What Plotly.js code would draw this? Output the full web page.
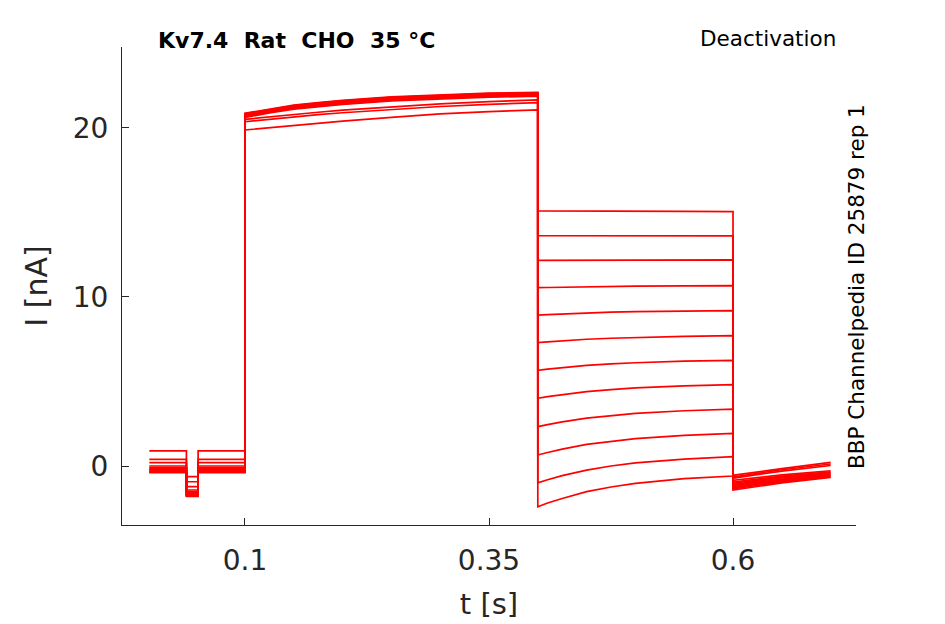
<!DOCTYPE html>
<html>
<head>
<meta charset="utf-8">
<script src="https://cdn.plot.ly/plotly-3.0.1.min.js"></script>
<style>
  html, body { margin: 0; padding: 0; background: #fff; }
  #graph { width: 945px; height: 624px; }
</style>
</head>
<body>
<div id="graph"></div>
<script>
/* ----- Protocol times (s) ------- */
var holdTimes = [0.002, 0.040];        // holding before the test pulse
var pulseTimes = [0.040, 0.052];       // short hyperpolarising test pulse
var preTimes = [0.052, 0.1];           // holding after the test pulse
var activationTimes = [0.1, 0.125, 0.15, 0.175, 0.2, 0.25, 0.3, 0.35, 0.4];
var deactivationTimes = [0.4, 0.41, 0.425, 0.45, 0.475, 0.5, 0.55, 0.6];
var tailTimes = [0.6, 0.65, 0.7];

/* ----- Currents per sweep (nA) ------------------------------- */
var holdingLevels = [-0.4, -0.37, -0.33, -0.3, -0.25, -0.2, -0.15, -0.1, 0.0, 0.2, 0.39, 0.89];
var pulseLevels = [-1.8, -1.77, -1.74, -1.71, -1.67, -1.62, -1.58, -1.52, -1.42, -1.22, -0.93, -0.63];

var activation = [
    [19.88, 20.02, 20.15, 20.28, 20.40, 20.63, 20.83, 20.97, 21.07],
    [20.37, 20.52, 20.66, 20.79, 20.90, 21.10, 21.27, 21.40, 21.50],
    [20.51, 20.66, 20.80, 20.93, 21.05, 21.25, 21.42, 21.56, 21.66],
    [20.62, 20.89, 21.11, 21.26, 21.39, 21.60, 21.73, 21.82, 21.88],
    [20.66, 20.93, 21.15, 21.30, 21.43, 21.64, 21.77, 21.86, 21.91],
    [20.70, 20.96, 21.18, 21.33, 21.46, 21.67, 21.80, 21.89, 21.94],
    [20.73, 20.99, 21.21, 21.36, 21.49, 21.70, 21.83, 21.92, 21.97],
    [20.76, 21.02, 21.24, 21.39, 21.52, 21.73, 21.86, 21.95, 22.00],
    [20.79, 21.05, 21.27, 21.42, 21.55, 21.76, 21.89, 21.98, 22.03],
    [20.82, 21.08, 21.30, 21.45, 21.58, 21.79, 21.92, 22.01, 22.06],
    [20.84, 21.10, 21.32, 21.47, 21.60, 21.81, 21.94, 22.03, 22.08],
    [20.87, 21.13, 21.35, 21.50, 21.63, 21.84, 21.97, 22.06, 22.11]
];

var deactivation = [
    [15.10, 15.10, 15.09, 15.08, 15.07, 15.07, 15.06, 15.05],
    [13.63, 13.63, 13.63, 13.62, 13.62, 13.62, 13.62, 13.62],
    [12.17, 12.17, 12.18, 12.19, 12.19, 12.19, 12.20, 12.20],
    [10.55, 10.56, 10.58, 10.61, 10.63, 10.64, 10.66, 10.67],
    [8.93, 8.96, 9.00, 9.06, 9.10, 9.13, 9.17, 9.19],
    [7.30, 7.35, 7.41, 7.50, 7.56, 7.61, 7.67, 7.71],
    [5.66, 5.73, 5.82, 5.95, 6.04, 6.11, 6.20, 6.25],
    [4.01, 4.11, 4.23, 4.40, 4.52, 4.62, 4.74, 4.81],
    [2.33, 2.45, 2.61, 2.83, 2.99, 3.11, 3.27, 3.36],
    [0.65, 0.80, 1.00, 1.28, 1.47, 1.62, 1.81, 1.93],
    [-0.99, -0.81, -0.57, -0.24, 0.00, 0.18, 0.41, 0.55],
    [-2.41, -2.19, -1.92, -1.52, -1.24, -1.03, -0.75, -0.59]
];

var tail = [
    [-1.42, -1.00, -0.67],
    [-1.35, -0.94, -0.63],
    [-1.28, -0.88, -0.59],
    [-1.22, -0.83, -0.55],
    [-1.15, -0.77, -0.50],
    [-1.08, -0.71, -0.45],
    [-1.02, -0.66, -0.40],
    [-0.95, -0.60, -0.35],
    [-0.85, -0.52, -0.28],
    [-0.72, -0.30, 0.03],
    [-0.65, -0.22, 0.12],
    [-0.55, -0.15, 0.22]
];

var xTicks = [0.1, 0.35, 0.6];
var yTicks = [0, 10, 20];

/* ----- Building the sweeps ------- */

/**
 * Joins the protocol segments of one sweep into a single trace.
 * @param {number} i - index of the sweep.
 * @return {object} The plotly trace for that sweep.
 */
function sweepTrace(i) {
    var t = [].concat(holdTimes, pulseTimes, preTimes, activationTimes, deactivationTimes, tailTimes);
    var y = [].concat(
        [holdingLevels[i], holdingLevels[i]],
        [pulseLevels[i], pulseLevels[i]],
        [holdingLevels[i], holdingLevels[i]],
        activation[i],
        deactivation[i],
        tail[i]
    );
    return {
        x: t,
        y: y,
        mode: 'lines',
        line: {color: 'rgb(255, 0, 0)', width: 1.7},
        showlegend: false,
        hoverinfo: 'none'
    };
}

var data = [];
for (var i = 0; i < holdingLevels.length; i++) {
    data.push(sweepTrace(i));
}

/* ----- Layout ------- */
var axisColor = '#262626';
var tickFont = {family: 'DejaVu Sans', size: 28, color: axisColor};

var layout = {
    width: 945,
    height: 624,
    paper_bgcolor: '#fff',
    plot_bgcolor: '#fff',
    margin: {l: 122, r: 89, t: 47, b: 99},
    title: {
        text: 'Kv7.4\u00a0\u00a0Rat\u00a0\u00a0CHO\u00a0\u00a035\u00a0°C',
        font: {family: 'DejaVu Sans', size: 22, weight: 'bold', color: '#000'},
        x: 158/945,
        xanchor: 'left',
        xref: 'container',
        y: 1 - 40/624,
        yanchor: 'middle',
        yref: 'container'
    },
    xaxis: {
        range: [-0.026, 0.726],
        tickvals: xTicks,
        ticks: 'inside',
        ticklen: 7,
        tickwidth: 1,
        tickcolor: axisColor,
        tickfont: tickFont,
        ticklabelstandoff: 10,
        showline: true,
        linecolor: axisColor,
        linewidth: 1,
        showgrid: false,
        zeroline: false,
        title: {text: 't [s]', font: {family: 'DejaVu Sans', size: 29, color: axisColor}, standoff: 18}
    },
    yaxis: {
        range: [-3.49, 24.79],
        tickvals: yTicks,
        ticks: 'inside',
        ticklen: 7,
        tickwidth: 1,
        tickcolor: axisColor,
        tickfont: tickFont,
        ticklabelstandoff: 7,
        showline: true,
        linecolor: axisColor,
        linewidth: 1,
        showgrid: false,
        zeroline: false,
        title: {text: 'I [nA]', font: {family: 'DejaVu Sans', size: 30, color: axisColor}, standoff: 16}
    },
    annotations: [
        {
            text: 'Deactivation',
            xref: 'paper', yref: 'paper',
            x: (838 - 122)/734, xanchor: 'right',
            y: (525 - 39)/478, yanchor: 'middle',
            showarrow: false,
            font: {family: 'DejaVu Sans', size: 21.5, color: '#000'}
        },
        {
            text: 'BBP Channelpedia ID 25879 rep 1',
            xref: 'paper', yref: 'paper',
            x: (856 - 122)/734, xanchor: 'center',
            y: (525 - 287)/478, yanchor: 'middle',
            textangle: -90,
            showarrow: false,
            font: {family: 'DejaVu Sans', size: 21.5, color: '#000'}
        }
    ]
};

var graph = document.getElementById('graph');
Plotly.newPlot(graph, data, layout, {staticPlot: true});
</script>
</body>
</html>
